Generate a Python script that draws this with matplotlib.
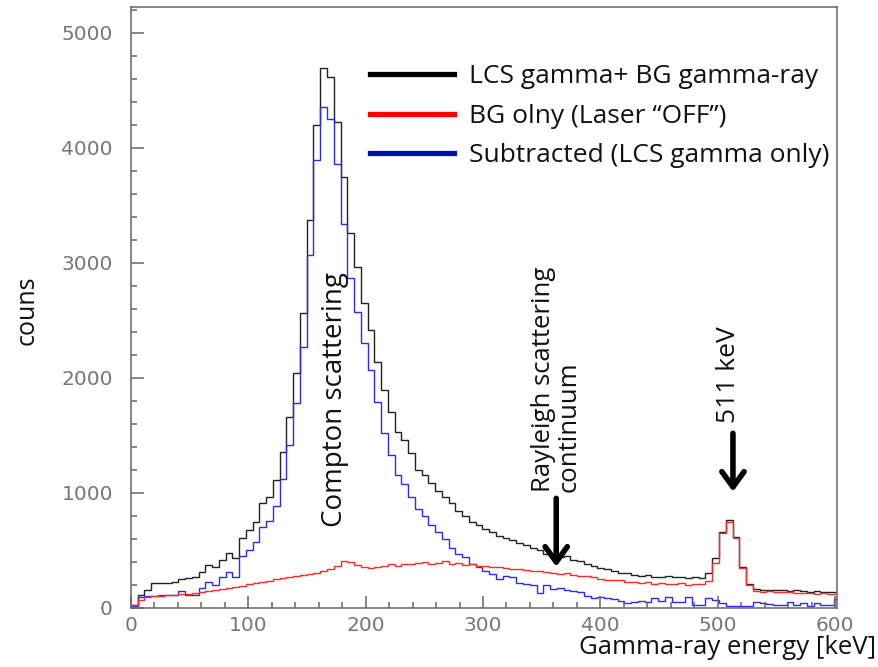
import numpy as np
import matplotlib
matplotlib.use('Agg')
import matplotlib.pyplot as plt
from matplotlib.lines import Line2D
from matplotlib.ticker import MultipleLocator

# histogram binning (keV)
bin_width = 5.76
n_bins = 105

# counts per bin
total_counts = [30, 115, 160, 215, 215, 220, 225, 255, 260, 272,
                316, 374, 360, 417, 475, 432, 606, 678, 751, 910,
                968, 1113, 1359, 1664, 2041, 2562, 3370, 4195, 4693, 4612,
                4220, 3745, 3260, 2968, 2650, 2417, 2142, 1896, 1707, 1533,
                1461, 1345, 1200, 1157, 1090, 1020, 968, 910, 845, 800,
                751, 720, 690, 664, 625, 605, 590, 565, 548, 525,
                504, 470, 450, 440, 455, 420, 405, 385, 365, 350,
                335, 325, 305, 300, 290, 278, 285, 272, 268, 280,
                265, 270, 258, 268, 262, 300, 432, 660, 765, 620,
                359, 210, 162, 157, 160, 152, 157, 150, 152, 145,
                142, 145, 140, 138, 135]

bg_counts = [25, 70, 95, 100, 105, 110, 112, 120, 125, 130,
             140, 150, 158, 165, 175, 185, 195, 205, 215, 228,
             238, 250, 262, 270, 280, 285, 295, 308, 320, 335,
             365, 410, 400, 370, 355, 350, 360, 368, 385, 365,
             378, 385, 390, 400, 385, 392, 405, 380, 392, 372,
             380, 362, 368, 352, 358, 346, 340, 336, 330, 325,
             318, 310, 305, 295, 300, 285, 280, 275, 268, 252,
             246, 240, 245, 230, 222, 215, 225, 210, 215, 208,
             205, 214, 200, 210, 205, 232, 388, 649, 751, 606,
             345, 200, 145, 140, 146, 138, 136, 142, 134, 128,
             130, 125, 128, 122, 120]

sub_counts = [20, 95, 100, 105, 110, 110, 112, 150, 113, 115,
              170, 225, 200, 270, 316, 272, 450, 500, 570, 700,
              760, 890, 1120, 1420, 1780, 2270, 3070, 3890, 4359, 4249,
              3858, 3339, 2867, 2577, 2302, 2070, 1794, 1519, 1330, 1157,
              1080, 965, 860, 800, 720, 660, 600, 520, 470, 440,
              385, 355, 320, 295, 255, 275, 265, 215, 210, 200,
              130, 200, 165, 170, 160, 150, 140, 105, 88, 92,
              84, 75, 62, 45, 50, 58, 55, 85, 60, 98,
              55, 55, 95, 25, 28, 90, 70, 40, 15, 14,
              15, 20, 50, 45, 35, 30, 25, 48, 25, 45,
              20, 40, 25, 30, 80]

labels = ['LCS gamma+ BG gamma-ray', 'BG olny (Laser \u201cOFF\u201d)',
          'Subtracted (LCS gamma only)']

edges = np.arange(n_bins + 1) * bin_width

plt.rcParams['font.family'] = ['Open Sans', 'DejaVu Sans']

fig = plt.figure(figsize=(8.79, 6.67), dpi=100)
ax = fig.add_axes([0.149, 0.0885, 0.803, 0.9005])

ax.stairs(total_counts, edges, color='#222222', lw=1.0)
ax.stairs(sub_counts, edges, color='#2a2aff', lw=1.0)
ax.stairs(bg_counts, edges, color='#ff2a2a', lw=1.0)

ax.set_xlim(0, 601.5)
ax.set_ylim(0, 5221)

gray = '#666666'
for s in ax.spines.values():
    s.set_color(gray)
    s.set_linewidth(1.1)

ax.xaxis.set_major_locator(MultipleLocator(100))
ax.xaxis.set_minor_locator(MultipleLocator(20))
ax.yaxis.set_major_locator(MultipleLocator(1000))
ax.yaxis.set_minor_locator(MultipleLocator(200))
ax.tick_params(which='both', direction='in', color=gray, width=1.1,
               top=False, right=False)
ax.tick_params(which='major', length=9)
ax.tick_params(which='minor', length=4.5)
ax.tick_params(axis='y', which='major', pad=13)
ax.tick_params(axis='x', which='major', pad=6)
for lab in ax.get_xticklabels() + ax.get_yticklabels():
    lab.set_family('DejaVu Sans')
    lab.set_fontsize(14.5)
    lab.set_color('#777777')

fig.text(0.031, 0.535, 'couns', rotation=90, ha='center', va='center',
         fontsize=18, color='#111111')
fig.text(0.997, 0.019, 'Gamma-ray energy [keV]', ha='right', va='baseline',
         fontsize=18.5, color='#111111')

handles = [Line2D([], [], color='#000000', lw=3.8),
           Line2D([], [], color='#ff0000', lw=3.8),
           Line2D([], [], color='#0010b0', lw=3.8)]
ax.legend(handles, labels, loc='upper left', bbox_to_anchor=(0.338, 0.905),
          frameon=False, fontsize=19, handlelength=3.2, handletextpad=0.55,
          labelspacing=0.55, borderpad=0, borderaxespad=0,
          labelcolor='#111111')

# annotations
ax.text(174, 704, 'Compton scattering', rotation=90, ha='center',
        va='bottom', fontsize=20, color='#111111')
ax.text(362.4, 1008, 'Rayleigh scattering\ncontinuum', rotation=90,
        ha='center', va='bottom', multialignment='left',
        fontsize=18.5, color='#111111', linespacing=1.0)
ax.text(509, 1608, '511 keV', rotation=90, ha='center', va='bottom',
        fontsize=19, color='#111111')

arrow = dict(arrowstyle='->,head_length=0.55,head_width=0.4', lw=4,
             color='black', mutation_scale=20, shrinkA=0, shrinkB=0)
ax.annotate('', xy=(362.4, 359), xytext=(362.4, 953), arrowprops=arrow)
ax.annotate('', xy=(513, 1011), xytext=(513, 1518), arrowprops=arrow)

fig.savefig('out.png', dpi=100)
